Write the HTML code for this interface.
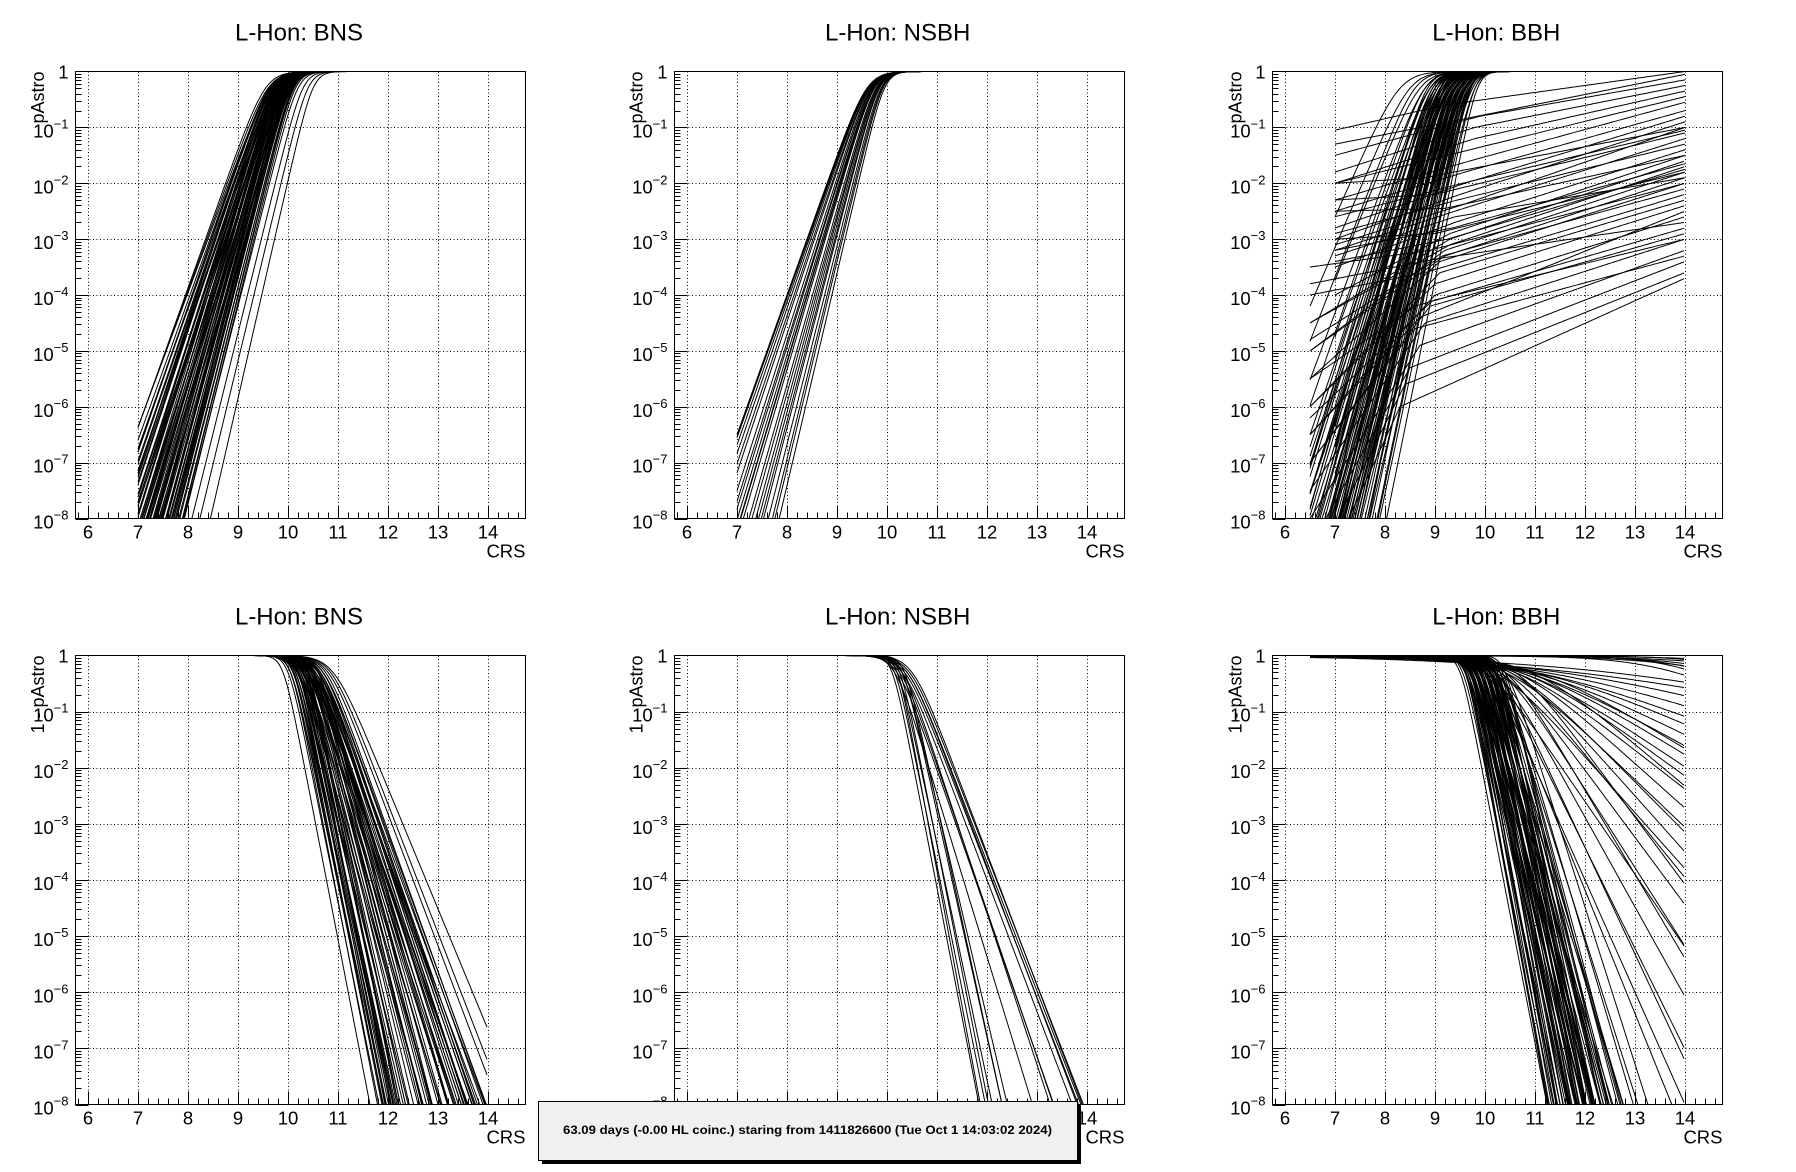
<!DOCTYPE html>
<html><head><meta charset="utf-8">
<style>
html,body{margin:0;padding:0;background:#fff;overflow:hidden;}
svg{display:block;font-family:"Liberation Sans",Arial,sans-serif;}
</style></head>
<body>
<svg id="chart" width="1796" height="1172" viewBox="0 0 1796 1172" xmlns="http://www.w3.org/2000/svg">
<rect x="0" y="0" width="1796" height="1172" fill="#fff"/>
<g id="panels"></g>
<g>
<rect x="542" y="1105" width="539" height="59" fill="#000"/>
<rect x="538.5" y="1101.5" width="539" height="59" fill="#f0f0f0" stroke="#000" stroke-width="1"/>
<text x="563" y="1134" textLength="489" lengthAdjust="spacingAndGlyphs" font-size="11.5" font-weight="bold">63.09 days (-0.00 HL coinc.) staring from 1411826600 (Tue Oct  1 14:03:02 2024)</text>
</g>
</svg>
<script>
// ---- data: logistic params (mid CRS, slope in decades/unit) ----
const bnsTopMid=[9.55,9.6,9.62,9.65,9.67,9.7,9.72,9.74,9.75,9.77,9.78,9.8,9.8,9.82,9.83,9.85,9.86,9.88,9.9,9.9,9.92,9.93,9.95,9.96,9.98,10.0,10.0,10.02,10.04,10.05,10.07,10.1,10.12,10.15,9.7,9.75,9.85,9.9,9.95,10.0,9.65,9.8,9.88,9.97,10.08,10.3,10.4,10.2,10.5,
 9.62,9.66,9.69,9.71,9.73,9.76,9.79,9.81,9.84,9.87,9.89,9.91,9.94,9.97,9.99,10.01,10.03,10.06,10.09,10.11,9.64,9.68,9.72,9.78,9.83,9.87,9.92,9.96,10.0,10.04];
const bnsTopSlope=[2.5,2.45,2.6,2.55,2.7,2.6,2.8,2.65,2.9,2.75,3.0,2.7,2.95,3.1,2.8,3.0,3.2,2.9,3.1,3.3,3.0,3.4,3.2,3.1,3.3,3.5,3.2,3.4,3.3,3.5,3.4,3.5,3.6,3.6,2.5,2.6,2.7,2.8,2.9,3.0,2.4,2.55,2.7,2.85,3.0,3.6,3.7,3.5,3.9,
 2.6,2.7,2.75,2.85,2.9,2.95,3.05,3.1,3.15,3.2,3.25,3.3,3.35,3.35,3.4,3.45,3.5,3.5,3.55,3.6,2.5,2.6,2.7,2.8,2.9,3.0,3.1,3.2,3.3,3.4];
const nsbhTopMid=[9.6,9.6,9.62,9.62,9.63,9.65,9.68,9.7,9.7,9.72,9.73,9.75,9.78,9.8,9.8,9.82,9.85,9.88,9.9,9.95,9.66,9.74,9.84,9.92];
const nsbhTopSlope=[2.5,2.52,2.55,2.5,2.6,2.65,2.8,2.85,2.9,2.95,3.0,3.05,3.15,3.2,3.3,3.35,3.45,3.55,3.65,3.8,2.7,3.0,3.4,3.7];
const bbhTopMid=[8.3,8.5,8.6,8.7,8.8,8.8,8.9,8.9,9.0,9.0,9.05,9.1,9.1,9.15,9.2,9.2,9.25,9.3,9.3,9.3,9.35,9.4,9.4,9.4,9.45,9.5,9.5,9.5,9.55,9.6,9.6,9.6,9.65,9.7,9.7,9.7,9.75,9.8,9.8,9.85,9.0,9.1,9.2,9.3,9.4,9.5,9.2,9.3,9.4,9.5,9.6,9.35,9.45,9.55,9.65,9.25,9.15,9.05,8.95,8.85,
 8.9,8.95,9.0,9.05,9.1,9.12,9.15,9.18,9.2,9.22,9.25,9.28,9.3,9.32,9.35,9.38,9.4,9.42,9.45,9.48,9.5,9.52,9.55,9.58,9.6,9.62,9.65,9.68,9.7,9.72];
const bbhTopSlope=[2.0,2.1,2.3,2.2,2.4,2.6,2.5,2.8,2.6,3.0,2.7,2.9,3.2,3.0,2.8,3.3,3.1,2.9,3.4,3.6,3.2,3.0,3.5,3.8,3.3,3.1,3.6,4.0,3.4,3.2,3.7,4.1,3.5,3.3,3.9,4.3,3.6,3.8,4.2,4.4,3.4,3.6,3.8,4.0,4.2,4.4,2.6,2.7,2.8,2.9,3.0,3.7,3.9,3.8,4.0,3.5,3.4,3.1,2.9,3.0,
 2.7,3.2,2.9,3.4,3.0,3.6,3.1,3.8,3.2,2.9,3.5,3.0,3.7,3.3,3.9,3.1,3.6,3.4,4.0,3.2,3.7,3.5,4.1,3.3,3.8,3.6,4.2,3.4,3.9,4.3];
// BBH shallow branches: start point, knee point, value at CRS 14 (log10 pAstro)
const bbhBranchStartX=[6.5,6.5,6.5,6.5,6.5,6.5,6.5,6.5,6.5,6.5,6.5,6.5,6.5,6.5,7,7,7,7,7,7,7,7,7,7,7,7,7,7,7,7,7,7,7,6.5,6.5,6.5,6.5,6.5,7,7,7,7,6.5,6.5,6.5];
const bbhBranchStartY=[-9.5,-9.0,-8.5,-8.0,-7.5,-7.0,-6.5,-6.0,-6.0,-5.5,-5.0,-5.0,-4.5,-4.5,-4.0,-3.5,-3.3,-3.2,-3.1,-3.0,-2.8,-2.5,-2.3,-2.0,-2.0,-1.8,-1.5,-1.05,-1.3,-2.0,-2.3,-2.5,-3.0,-3.5,-4.0,-5.5,-7.0,-6.5,-3.2,-3.4,-2.9,-2.6,-4.8,-3.8,-6.2];
const bbhBranchKneeX=[8.3,8.4,8.5,8.7,8.8,8.9,9.0,9.0,9.1,9.1,9.2,9.2,9.3,9.3,9.3,9.4,9.4,9.4,9.5,9.5,9.6,9.6,9.7,9.7,9.8,9.8,9.9,9.2,9.3,8.8,9.0,9.2,9.0,8.9,8.8,8.6,8.6,8.7,9.35,9.25,9.45,9.55,9.15,9.05,8.95];
const bbhBranchKneeY=[-6.0,-5.6,-5.3,-4.9,-4.5,-4.2,-4.0,-3.8,-3.6,-3.4,-3.3,-3.2,-3.1,-3.0,-2.9,-2.7,-2.6,-2.5,-2.4,-2.2,-2.0,-1.8,-1.6,-1.4,-1.2,-1.0,-0.8,-0.6,-0.9,-1.9,-2.2,-2.45,-2.9,-3.2,-3.6,-4.2,-4.6,-4.4,-2.8,-3.0,-2.3,-2.0,-3.3,-3.35,-4.1];
const bbhBranchEndY=[-3.7,-3.6,-3.4,-3.2,-3.0,-2.9,-2.6,-2.4,-2.3,-2.0,-1.9,-1.8,-1.7,-1.6,-1.5,-1.4,-1.9,-1.2,-1.0,-0.9,-0.8,-0.7,-0.55,-0.45,-0.35,-0.25,-0.15,0.0,-0.05,-1.0,-1.1,-1.5,-1.8,-2.0,-2.2,-2.8,-3.3,-2.5,-1.65,-1.75,-1.3,-1.05,-2.1,-2.7,-3.0];
const bnsBotMid=[10.0,10.05,10.1,10.1,10.15,10.2,10.2,10.25,10.3,10.3,10.35,10.4,10.15,10.25,10.35,9.9,10.05,10.2,10.2,10.25,10.3,10.35,10.4,10.45,10.5,10.5,10.55,10.6,10.4,10.45,10.5,10.5,10.55,10.6,10.6,10.65,10.7,10.7,10.75,10.8,10.85,10.9,10.55,10.45,10.65,10.35,
 10.05,10.1,10.15,10.2,10.25,10.3,10.35,10.4,10.45,10.5,10.55,10.6,10.65,10.7,10.3,10.35,10.4,10.45,10.5,10.55,10.12,10.22,10.32,10.42,10.52,10.62,10.18,10.28,10.38,10.48];
const bnsBotSlope=[4.4,4.2,4.5,4.0,4.3,4.6,4.1,4.4,4.2,4.6,4.3,4.5,4.1,4.0,4.0,4.6,4.6,3.8,3.2,3.4,3.1,3.5,3.3,3.6,3.2,3.4,3.0,3.5,2.5,2.6,2.4,2.7,2.5,2.6,2.4,2.55,2.45,2.65,2.5,2.35,2.3,2.15,2.8,2.9,2.75,2.7,
 4.3,4.1,4.4,4.2,4.0,3.9,3.7,3.5,3.3,3.1,2.9,2.75,2.6,2.5,2.9,2.8,2.7,2.65,2.6,2.55,4.5,4.2,3.8,3.4,3.0,2.7,3.6,3.3,3.0,2.8];
const nsbhBotMid=[10.1,10.15,10.2,10.2,10.25,10.3,10.3,10.35,10.3,10.4,10.45,10.5,10.35,10.4,10.2,10.25,10.3,10.15];
const nsbhBotSlope=[4.6,4.4,4.8,4.2,4.5,4.0,3.8,4.1,2.35,2.3,2.3,2.35,2.3,2.35,2.55,2.6,2.7,2.9];
const bbhBotMid=[9.5,9.55,9.6,9.6,9.65,9.7,9.7,9.75,9.8,9.8,9.85,9.9,9.9,9.95,10.0,10.0,10.05,10.1,10.1,10.15,10.2,10.2,10.25,10.3,10.3,10.35,10.4,9.6,9.7,9.8,9.9,10.0,10.1,10.2,10.3,9.65,9.75,9.85,9.95,10.05,10.15,10.25,9.7,9.9,10.1,10.3,9.8,10.0,10.2,10.4,
 9.6,9.65,9.7,9.75,9.8,9.85,9.9,9.95,10.0,10.05,10.1,10.15,10.2,10.25,9.62,9.72,9.82,9.92,10.02,10.12,10.22,9.68,9.78,9.88,9.98,10.08,10.18,9.74,9.84,9.94,
 10.0,10.1,10.2,10.3,10.3,10.4,10.5,10.5,10.6,10.6,10.7,10.7,10.8,10.8,10.9,11.0,11.0,11.2,11.5,11.8,12.5,10.2,10.4,10.1,10.6,10.9,11.0,10.4,10.2,10.0,
 14.5,15.0,16.0,14.2,15.5,17.0,14.8,13.8];
const bbhBotSlope=[4.6,4.4,4.8,4.2,4.5,4.9,4.0,4.3,4.7,3.9,4.4,4.8,3.8,4.2,4.6,3.7,4.1,4.5,3.6,4.0,4.4,3.5,3.9,4.3,3.4,3.8,4.2,3.6,3.5,3.4,3.5,3.3,3.4,3.2,3.3,5.0,4.9,5.0,4.7,4.8,4.6,4.5,3.2,3.1,3.0,3.0,2.9,2.9,2.8,2.8,
 4.2,4.0,4.6,3.9,4.3,3.7,4.5,4.0,4.4,3.8,4.2,3.6,4.0,3.9,4.8,4.7,4.6,4.5,4.4,4.3,4.2,3.5,3.4,3.3,3.6,3.5,3.4,4.1,3.9,3.7,
 2.0,1.8,1.6,1.4,1.2,1.1,1.0,0.9,0.8,0.7,0.65,0.6,0.55,0.5,0.45,0.4,0.35,0.3,0.25,0.2,0.2,1.9,1.5,2.2,1.2,0.75,0.55,0.85,1.0,1.3,
 0.5,0.4,0.3,0.6,0.5,0.3,0.35,0.5];
const xTicks=[6,7,8,9,10,11,12,13,14];
const yDecades=[0,-1,-2,-3,-4,-5,-6,-7,-8];

const NS="http://www.w3.org/2000/svg";
const root=document.getElementById('panels');
function mk(tag,attrs,parent){const e=document.createElementNS(NS,tag);for(const k in attrs)e.setAttribute(k,attrs[k]);(parent||root).appendChild(e);return e;}

const PADW=1796/3;
const panels=[
 {col:0,row:0,title:"L-Hon: BNS",ytitle:"pAstro",key:"bns-top"},
 {col:1,row:0,title:"L-Hon: NSBH",ytitle:"pAstro",key:"nsbh-top"},
 {col:2,row:0,title:"L-Hon: BBH",ytitle:"pAstro",key:"bbh-top"},
 {col:0,row:1,title:"L-Hon: BNS",ytitle:"1 - pAstro",key:"bns-bottom"},
 {col:1,row:1,title:"L-Hon: NSBH",ytitle:"1 - pAstro",key:"nsbh-bottom"},
 {col:2,row:1,title:"L-Hon: BBH",ytitle:"1 - pAstro",key:"bbh-bottom"}
];

function logP(x,m,s){const z=-s*(x-m);return z>20?-z:-Math.log10(1+Math.pow(10,z));}
function logQ(x,m,s){const z=s*(x-m);return z>20?-z:-Math.log10(1+Math.pow(10,z));}

panels.forEach((p,pi)=>{
  const px=p.col*PADW;
  const L=Math.round(px+75)+0.5, R=L+450;
  const T=p.row?655.5:71.5, B=p.row?1104.5:518.5;
  const xs=v=>L+(v-5.75)/9*(R-L);
  const ys=lg=>T+(0-lg)/8*(B-T);
  const g=mk('g',{});
  
  
  const t=mk('text',{x:px+299,y:T-31,'text-anchor':'middle','font-size':24},g);
  t.textContent=p.title;
  
  
  const grid=mk('g',{stroke:'#000','stroke-width':1,'stroke-dasharray':'1,2.5','shape-rendering':'crispEdges'},g);
  
  
  xTicks.forEach(v=>{const X=Math.round(xs(v))+0.5;mk('line',{x1:X,x2:X,y1:T,y2:B},grid);});
  yDecades.forEach(d=>{if(d===0||d===-8)return;const Y=Math.round(ys(d))+0.5;mk('line',{x1:L,x2:R,y1:Y,y2:Y},grid);});
  const clipId='clip'+pi;
  const cp=mk('clipPath',{id:clipId},g);mk('rect',{x:L,y:T-1,width:R-L,height:B-T+1},cp);
  const cg=mk('g',{'clip-path':'url(#'+clipId+')',fill:'none',stroke:'#000','stroke-width':1},g);
  
  
  const addPath=(fn,x0)=>{
    let d='';
    for(let x=x0;x<=14.0001;x+=0.04){let v=Math.max(-10,Math.min(0,fn(x)));d+=(d?'L':'M')+xs(x).toFixed(1)+','+ys(v).toFixed(1);}
    const el=mk('path',{d:d},cg);
    
    
  };
  if(p.key==='bns-top') bnsTopMid.forEach((m,i)=>addPath(x=>logP(x,m,bnsTopSlope[i]),7));
  if(p.key==='nsbh-top') nsbhTopMid.forEach((m,i)=>addPath(x=>logP(x,m,nsbhTopSlope[i]),7));
  if(p.key==='bbh-top'){
    bbhTopMid.forEach((m,i)=>addPath(x=>logP(x,m,bbhTopSlope[i]),i%3===0?7:6.5));
    bbhBranchKneeX.forEach((kx,i)=>{
      const sx=bbhBranchStartX[i],sy=bbhBranchStartY[i],ky=bbhBranchKneeY[i],ey=bbhBranchEndY[i];
      addPath(x=>x<kx? sy+(ky-sy)*(x-sx)/(kx-sx) : ky+(ey-ky)*(x-kx)/(14-kx), sx);
    });
  }
  if(p.key==='bns-bottom') bnsBotMid.forEach((m,i)=>addPath(x=>logQ(x,m,bnsBotSlope[i]),6.5));
  if(p.key==='nsbh-bottom') nsbhBotMid.forEach((m,i)=>addPath(x=>logQ(x,m,nsbhBotSlope[i]),6.5));
  if(p.key==='bbh-bottom') bbhBotMid.forEach((m,i)=>addPath(x=>logQ(x,m,bbhBotSlope[i]),6.5));
  const fr=mk('rect',{x:L,y:T,width:R-L,height:B-T,fill:'none',stroke:'#000','stroke-width':1,'shape-rendering':'crispEdges'},g);
  
  
  const tk=mk('g',{stroke:'#000','stroke-width':1,'shape-rendering':'crispEdges'},g);
  
  
  for(let i=29;i<=73;i++){const v=i/5;const X=Math.round(xs(v))+0.5;const major=(i%5===0);mk('line',{x1:X,x2:X,y1:B,y2:B-(major?13:6)},tk);}
  for(let d=-8;d<0;d++){for(let k=1;k<=9;k++){const lg=d+Math.log10(k);const Y=Math.round(ys(lg))+0.5;mk('line',{x1:L,x2:L+(k===1?13:6),y1:Y,y2:Y},tk);}}
  mk('line',{x1:L,x2:L+13,y1:T,y2:T},tk);
  xTicks.forEach(v=>{const e=mk('text',{x:xs(v),y:B+20,'text-anchor':'middle','font-size':18.5},g);e.textContent=String(v);
    
    });
  const xt=mk('text',{x:R,y:B+39,'text-anchor':'end','font-size':18.5},g);xt.textContent='CRS';
  
  
  yDecades.forEach(d=>{
    const Y=ys(d);
    const e=mk('text',{x:L-7,y:Y+(d===0?7:10),'text-anchor':'end','font-size':18.5},g);
    
    
    if(d===0){e.textContent='1';}
    else{const a=mk('tspan',{},e);a.textContent='10';const b=mk('tspan',{dy:-9,'font-size':13},e);b.textContent='\u2212'+(-d);}
  });
  const yt=mk('text',{x:0,y:0,'text-anchor':'end','font-size':18,transform:'translate('+(px+44)+','+T+') rotate(-90)'},g);
  yt.textContent=p.ytitle;
  
  
});
</script>
</body></html>
